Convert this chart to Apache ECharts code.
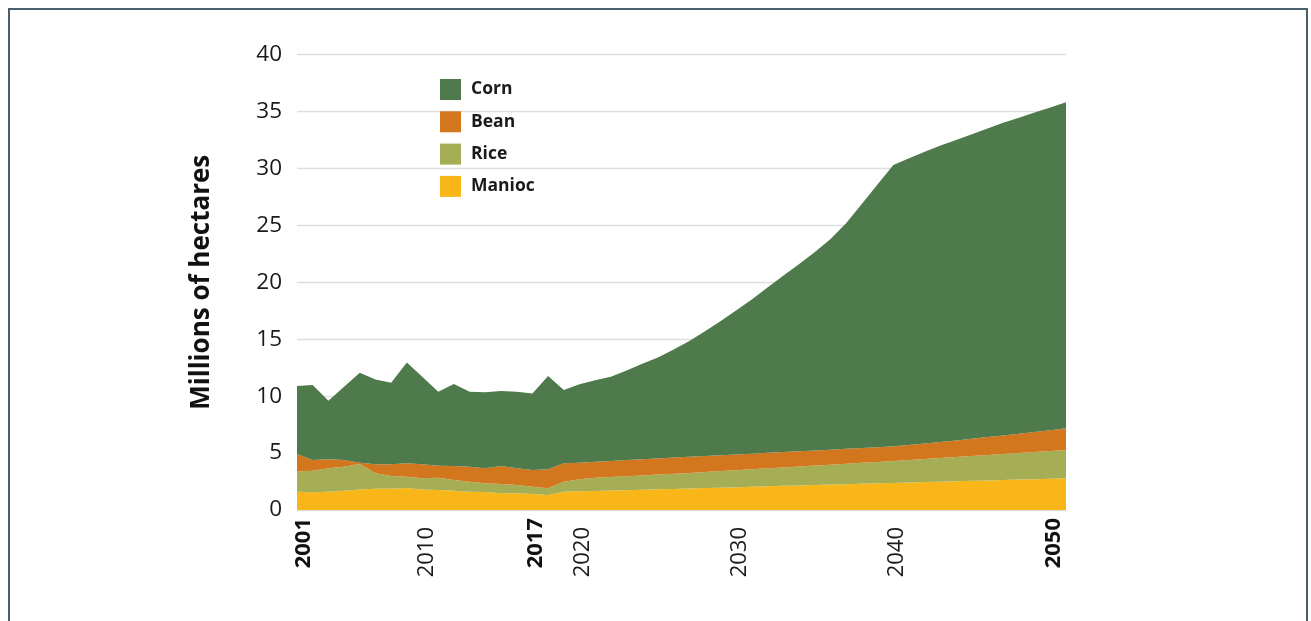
<!DOCTYPE html>
<html>
<head>
<meta charset="utf-8">
<script src="https://cdn.jsdelivr.net/npm/echarts@6/dist/echarts.min.js"></script>
<style>
html,body{margin:0;padding:0;background:#fff;}
#chart{width:1311px;height:621px;}
</style>
</head>
<body>
<div id="chart"></div>
<script>
const years = [];
for (let y = 2001; y <= 2050; y++) years.push(String(y));

const tickLabels = ['2001', '2010', '2017', '2020', '2030', '2040', '2050'];
const boldLabels = ['2001', '2017', '2050'];

const manioc = [1.61,1.55,1.61,1.70,1.81,1.87,1.87,1.93,1.81,1.76,1.70,1.61,1.58,1.46,1.46,1.40,1.32,1.61,1.64,1.67,
  1.71,1.74,1.78,1.82,1.85,1.89,1.93,1.96,2.00,2.04,2.08,2.12,2.16,2.20,2.23,2.27,2.30,2.34,2.38,2.41,
  2.45,2.49,2.52,2.56,2.60,2.63,2.67,2.71,2.74,2.78];
const rice = [1.76,1.90,2.05,2.10,2.24,1.35,1.12,1.00,0.97,1.08,0.93,0.88,0.76,0.82,0.73,0.65,0.58,0.88,1.06,1.17,
  1.19,1.23,1.26,1.29,1.33,1.37,1.41,1.46,1.50,1.54,1.58,1.62,1.66,1.70,1.75,1.79,1.84,1.88,1.92,1.97,
  2.02,2.07,2.13,2.18,2.23,2.29,2.34,2.39,2.45,2.49];
const bean = [1.55,0.94,0.79,0.59,0.10,0.79,1.02,1.17,1.23,1.05,1.23,1.31,1.32,1.58,1.47,1.46,1.67,1.61,1.46,1.40,
  1.41,1.41,1.41,1.42,1.42,1.41,1.40,1.39,1.38,1.37,1.36,1.35,1.34,1.33,1.32,1.31,1.30,1.30,1.30,1.32,
  1.36,1.41,1.46,1.51,1.57,1.63,1.69,1.75,1.82,1.90];
const corn = [5.97,6.58,5.15,6.44,7.90,7.46,7.17,8.86,7.67,6.50,7.20,6.59,6.67,6.59,6.73,6.73,8.19,6.44,6.89,7.16,
  7.39,7.87,8.40,8.87,9.50,10.18,10.96,11.79,12.67,13.55,14.53,15.51,16.44,17.42,18.50,19.83,21.46,23.08,24.70,25.20,
  25.62,26.03,26.39,26.75,27.10,27.45,27.75,28.05,28.34,28.63];

const colors = { Corn: '#4f7b4c', Bean: '#d3771f', Rice: '#a6ae55', Manioc: '#f8b619' };
const FONT = '"Open Sans", "Noto Sans", sans-serif';

function areaSeries(name, data) {
  return {
    name, type: 'line', stack: 'total', data,
    symbol: 'none', showSymbol: false,
    lineStyle: { width: 0 },
    areaStyle: { color: colors[name], opacity: 1 },
    itemStyle: { color: colors[name] },
    emphasis: { disabled: true },
    animation: false
  };
}

const chart = echarts.init(document.getElementById('chart'), null, { renderer: 'canvas' });
chart.setOption({
  animation: false,
  backgroundColor: '#ffffff',
  grid: { left: 297, right: 245, top: 54.5, bottom: 111, containLabel: false },
  legend: {
    data: ['Corn', 'Bean', 'Rice', 'Manioc'],
    orient: 'vertical', left: 440, top: 79, padding: 0,
    itemWidth: 21, itemHeight: 21, itemGap: 11.3,
    icon: 'rect',
    selectedMode: false,
    textStyle: { fontFamily: FONT, fontWeight: 'bold', fontSize: 17.5, color: '#1a1a1a', padding: [0, 0, 0, 5] }
  },
  xAxis: {
    type: 'category', data: years, boundaryGap: false,
    axisLine: { show: false }, axisTick: { show: false },
    splitLine: { show: false },
    axisLabel: {
      rotate: 90, margin: 8, hideOverlap: false,
      showMinLabel: true, showMaxLabel: true,
      interval: (idx, val) => tickLabels.indexOf(val) >= 0,
      formatter: (val) => {
        if (val === '2001') return '{f|' + val + '}';
        return boldLabels.indexOf(val) >= 0 ? '{b|' + val + '}' : '{r|' + val + '}';
      },
      rich: {
        f: { fontFamily: FONT, fontWeight: 'bold', fontSize: 22, color: '#111', padding: [14, 0, 0, 0] },
        b: { fontFamily: FONT, fontWeight: 'bold', fontSize: 22, color: '#111', padding: [0, 0, 24, 0] },
        r: { fontFamily: FONT, fontWeight: 'normal', fontSize: 22, color: '#1a1a1a', padding: [0, 9, 24, 0] }
      }
    }
  },
  yAxis: {
    type: 'value', min: 0, max: 40, interval: 5,
    name: 'Millions of hectares', nameLocation: 'middle', nameGap: 82, nameRotate: 90,
    nameTextStyle: { fontFamily: FONT, fontWeight: 'bold', fontSize: 26, color: '#111' },
    axisLine: { show: false }, axisTick: { show: false },
    axisLabel: { fontFamily: FONT, fontSize: 22.5, color: '#1a1a1a', margin: 15 },
    splitLine: { lineStyle: { color: '#dedede', width: 1.3 } }
  },
  series: [
    areaSeries('Manioc', manioc),
    areaSeries('Rice', rice),
    areaSeries('Bean', bean),
    areaSeries('Corn', corn)
  ],
  graphic: [
    { type: 'rect', silent: true, z: 100,
      shape: { x: 9, y: 9, width: 1298, height: 700 },
      style: { fill: null, stroke: '#4a5e6b', lineWidth: 2 } }
  ]
});
</script>
</body>
</html>
